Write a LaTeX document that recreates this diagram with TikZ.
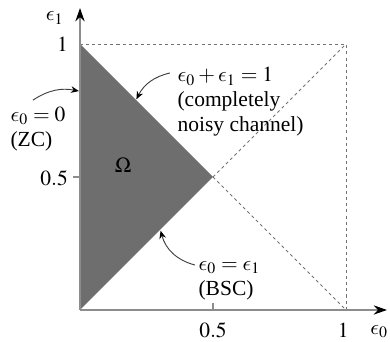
\documentclass[tikz,border=0pt]{standalone}
\usepackage{mathptmx}
\usepackage{fontspec}
\setmainfont{Liberation Serif}
\DeclareSymbolFont{cmletters}{OML}{cmm}{m}{it}
\DeclareMathSymbol{\eps}{\mathord}{cmletters}{"0F}
\usetikzlibrary{arrows.meta}

\begin{document}
\begin{tikzpicture}[
  x=4cm,y=4cm,
  font=\fontsize{9.2}{10.7}\selectfont,
  axis/.style={draw=black!45,line width=0.5pt,-{Stealth[length=2mm,width=1.4mm,color=black]}},
  tick/.style={draw=black!45,line width=0.5pt},
  guide/.style={draw=black!55,line width=0.4pt,dash pattern=on 1.3pt off 1.3pt},
  region/.style={fill=black!57},
  pointer/.style={draw=black!75,line width=0.4pt,-{Stealth[length=1.2mm,width=1mm,color=black]}},
  note/.style={align=left,inner sep=0pt,anchor=west},
  ticklabel/.style={inner sep=1pt}
]
\useasboundingbox (-0.3008,-0.1203) rectangle (1.1654,1.1654);

%%%%%%%%%%%%%%%%%%%%%%%%%%%%%%%%%%%%%%%%%%%%%%%%%%%%
% Region and guide lines
%%%%%%%%%%%%%%%%%%%%%%%%%%%%%%%%%%%%%%%%%%%%%%%%%%%%
\coordinate (O) at (0,0);
\coordinate (A) at (0,1);
\coordinate (M) at (0.5,0.5);
\coordinate (B) at (1,1);
\coordinate (C) at (1,0);

\fill[region] (O) -- (A) -- (M) -- cycle;
\draw[guide] (A) -- (B) -- (C);
\draw[guide] (M) -- (B);
\draw[guide] (M) -- (C);

\node (omega) at (0.162,0.545) {$\Omega$};

%%%%%%%%%%%%%%%%%%%%%%%%%%%%%%%%%%%%%%%%%%%%%%%%%%%%
% Axes
%%%%%%%%%%%%%%%%%%%%%%%%%%%%%%%%%%%%%%%%%%%%%%%%%%%%
\coordinate (xend) at (1.154,0);
\coordinate (yend) at (0,1.135);
\draw[axis] (O) -- (xend);
\draw[axis] (O) -- (yend);

\node[inner sep=0pt] (e0lab) at (1.125,-0.08) {$\eps_0$};
\node[inner sep=0pt] (e1lab) at (-0.095,1.098) {$\eps_1$};

\draw[tick] (0.5,0) -- (0.5,0.025);
\draw[tick] (0,0.5) -- (-0.025,0.5);
\node[ticklabel] (x05) at (0.5,-0.075) {$0.5$};
\node[ticklabel] (x1) at (0.99,-0.075) {$1$};
\node[ticklabel,anchor=east] (y05) at (-0.035,0.496) {$0.5$};
\node[ticklabel,anchor=east] (y1) at (-0.035,1.0) {$1$};

%%%%%%%%%%%%%%%%%%%%%%%%%%%%%%%%%%%%%%%%%%%%%%%%%%%%
% Annotations
%%%%%%%%%%%%%%%%%%%%%%%%%%%%%%%%%%%%%%%%%%%%%%%%%%%%
\node[note] (zc) at (-0.263,0.680) {$\eps_0=0$\\(ZC)};
\coordinate (zcfrom) at (-0.177,0.789);
\coordinate (zcto) at (-0.004,0.823);
\draw[pointer] (zcfrom) to[bend left=22] (zcto);

\node[note] (noisy) at (0.365,0.782) {$\eps_0+\eps_1=1$\\(completely\\noisy channel)};
\coordinate (noisyfrom) at (0.338,0.891);
\coordinate (noisyto) at (0.212,0.792);
\draw[pointer] (noisyfrom) to[bend right=25] (noisyto);

\node[note] (bsc) at (0.444,0.109) {$\eps_0=\eps_1$\\(BSC)};
\coordinate (bscfrom) at (0.432,0.169);
\coordinate (bscto) at (0.303,0.298);
\draw[pointer] (bscfrom) to[bend left=30] (bscto);

\end{tikzpicture}
\end{document}
